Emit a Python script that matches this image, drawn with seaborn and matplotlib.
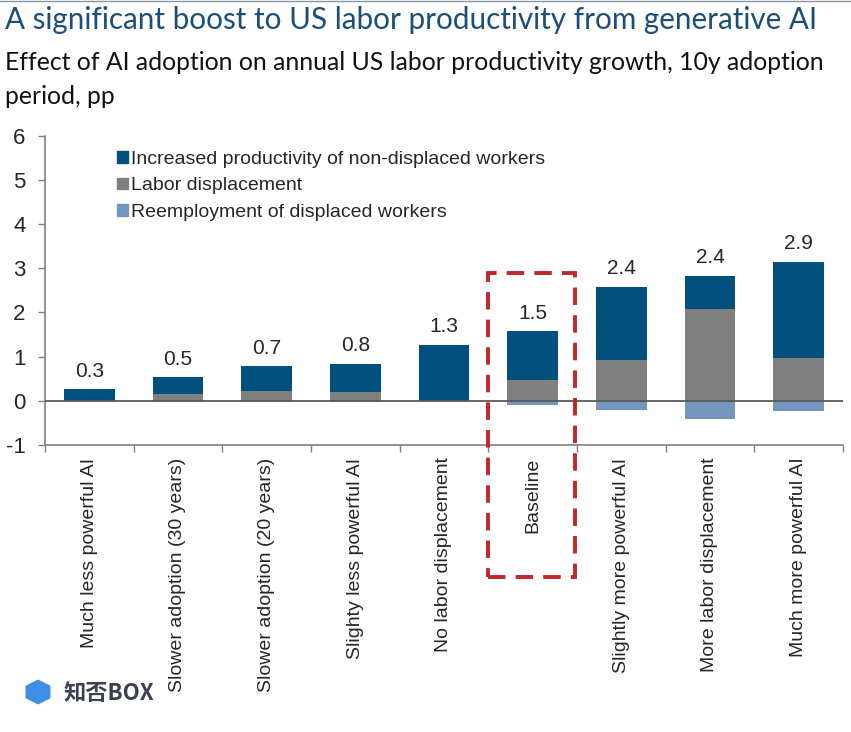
import matplotlib
matplotlib.use("Agg")
import matplotlib.pyplot as plt
import matplotlib.patches as mpatches
from matplotlib.lines import Line2D
import seaborn as sns

# scenario categories
scenarios = [
    "Much less powerful AI",
    "Slower adoption (30 years)",
    "Slower adoption (20 years)",
    "Slighty less powerful AI",
    "No labor displacement",
    "Baseline",
    "Slightly more powerful AI",
    "More labor displacement",
    "Much more powerful AI",
]
# pp contributions
productivity = [0.27, 0.37, 0.55, 0.64, 1.27, 1.10, 1.65, 0.75, 2.17]
displacement = [0.00, 0.16, 0.23, 0.20, 0.00, 0.475, 0.93, 2.08, 0.98]
reemployment = [0.00, -0.02, -0.03, -0.02, 0.00, -0.10, -0.20, -0.42, -0.22]
totals = [0.3, 0.5, 0.7, 0.8, 1.3, 1.5, 2.4, 2.4, 2.9]

series_names = [
    "Increased productivity of non-displaced workers",
    "Labor displacement",
    "Reemployment of displaced workers",
]
c_blue = "#02507D"
c_gray = "#808080"
c_light = "#7396BE"

sns.set_style("white")
plt.rcParams["font.family"] = ["Liberation Sans", "DejaVu Sans"]
plt.rcParams["axes.unicode_minus"] = False

fig = plt.figure(figsize=(8.51, 7.32), dpi=100)
ax = fig.add_axes([45 / 851, 1 - 445 / 732, 798 / 851, 309.3 / 732])

stack_top = [p + d for p, d in zip(productivity, displacement)]
bw = 0.57
bar_kw = dict(width=bw, saturation=1, linewidth=0, ax=ax)
sns.barplot(x=scenarios, y=stack_top, color=c_blue, **bar_kw)
sns.barplot(x=scenarios, y=displacement, color=c_gray, **bar_kw)
sns.barplot(x=scenarios, y=reemployment, color=c_light, **bar_kw)

for i, (top, tot) in enumerate(zip(stack_top, totals)):
    ax.annotate(f"{tot:.1f}", (i, top), xytext=(0, 6), textcoords="offset points",
                ha="center", va="bottom", fontsize=15)

ax.axhline(0, color="#595959", lw=1.3, zorder=3)

ax.set_xlim(-0.5, len(scenarios) - 0.5)
ax.set_ylim(-1, 6)
ax.set_yticks(range(-1, 7))
ax.tick_params(axis="y", labelsize=16, length=5, width=1, color="#808080",
               direction="out", left=True, pad=9)
ax.set_xticks(range(len(scenarios)))
ax.set_xticklabels(scenarios, rotation=90, fontsize=14)
ax.tick_params(axis="x", length=0, pad=9)
ax.set_xticks([i - 0.5 for i in range(len(scenarios) + 1)], minor=True)
ax.tick_params(axis="x", which="minor", length=5, width=1, color="#808080", bottom=True)
ax.set_xlabel("")
ax.set_ylabel("")

sns.despine(ax=ax, top=True, right=True)
for side in ["left", "bottom"]:
    ax.spines[side].set_color("#808080")
    ax.spines[side].set_linewidth(1.2)

handles = [mpatches.Patch(color=c) for c in (c_blue, c_gray, c_light)]
ax.legend(handles, series_names, loc="upper left", bbox_to_anchor=(0.09, 0.952),
          frameon=False, fontsize=14, handlelength=0.55, handleheight=0.55,
          handletextpad=0.2, labelspacing=0.5, borderpad=0, borderaxespad=0)

# dashed highlight box around the baseline scenario
box = mpatches.Rectangle((4.5, -3.98), 0.98, 2.9 + 3.98, fill=False,
                         edgecolor="#C0272D", lw=2.8, linestyle=(0, (4.5, 2.6)),
                         clip_on=False, zorder=5)
ax.add_patch(box)

fig.add_artist(Line2D([0, 1], [0.999, 0.999], color="#8496A8", lw=1))
fig.text(5 / 851, 1 - 20 / 732, "A significant boost to US labor productivity from generative AI",
         fontsize=21.3, color="#1B4E79", va="center", ha="left", family=["Lato", "DejaVu Sans"])
fig.text(5 / 851, 1 - 62 / 732,
         "Effect of AI adoption on annual US labor productivity growth, 10y adoption",
         fontsize=17.8, color="#111111", va="center", ha="left", family=["Lato", "DejaVu Sans"])
fig.text(5 / 851, 1 - 96 / 732, "period, pp",
         fontsize=17.8, color="#111111", va="center", ha="left", family=["Lato", "DejaVu Sans"])

# watermark
fig.patches.append(mpatches.RegularPolygon((38 / 851, 1 - 692 / 732), 6, radius=0.016,
                                           color="#3F8FE8", transform=fig.transFigure,
                                           figure=fig))
fig.text(64 / 851, 1 - 693 / 732, "知否BOX", fontsize=16, color="#3A4150", fontweight="bold",
         style="italic", va="center", ha="left", family=["Noto Sans CJK SC", "DejaVu Sans"])

fig.savefig("out.png", dpi=100)
